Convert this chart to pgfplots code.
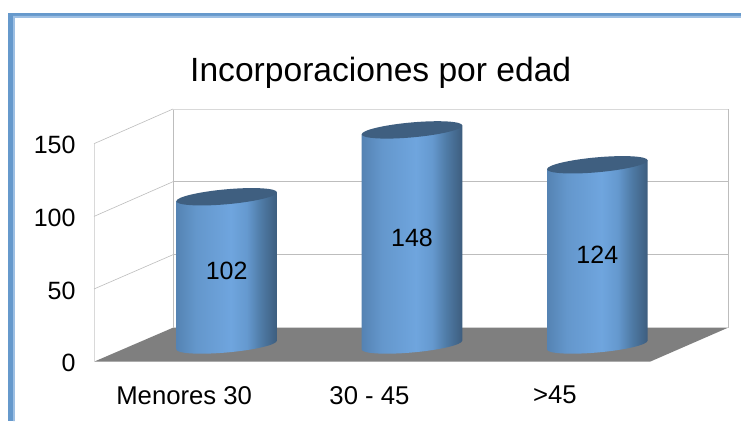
\documentclass[border=0pt]{standalone}
\usepackage{pgfplots}
\pgfplotsset{compat=1.18}
\usepackage{fontspec}
\setmainfont{Liberation Sans}
\definecolor{cyltopc}{HTML}{3F5F80}
\definecolor{cA}{HTML}{5583B3}
\definecolor{cB}{HTML}{6497CC}
\definecolor{cC}{HTML}{6FA5DE}
\definecolor{cD}{HTML}{6599CF}
\definecolor{cE}{HTML}{4F7BA6}
\definecolor{cF}{HTML}{3D5D7E}
\definecolor{floorc}{HTML}{7F7F7F}
\definecolor{gridc}{HTML}{BDBDBD}
\definecolor{wallc}{HTML}{D9D9D9}
\definecolor{bandA}{HTML}{6699CC}
\definecolor{bandB}{HTML}{9DBFE3}
\pgfdeclarehorizontalshading{cyl}{100bp}{color(0bp)=(cA); color(25bp)=(cA); color(35bp)=(cB); color(52bp)=(cC); color(60bp)=(cD); color(67bp)=(cE); color(75bp)=(cF); color(100bp)=(cF)}
\newlength\cylh
\pgfdeclareplotmark{cylinder}{%
  \pgfmathsetlength{\cylh}{1.4533pt*\rawy}%
  \begin{pgfscope}%
    \pgfpathmoveto{\pgfpoint{-50.3pt}{-4.4pt}}%
    \pgfpathlineto{\pgfpoint{-50.3pt}{-4.4pt-\cylh}}%
    \pgfpathcurveto{\pgfpoint{-50.3pt}{-8.54pt-\cylh}}{\pgfpoint{-27.78pt}{-9.93pt-\cylh}}{\pgfpoint{0pt}{-7.5pt-\cylh}}%
    \pgfpathcurveto{\pgfpoint{27.78pt}{-5.07pt-\cylh}}{\pgfpoint{50.3pt}{0.26pt-\cylh}}{\pgfpoint{50.3pt}{4.4pt-\cylh}}%
    \pgfpathlineto{\pgfpoint{50.3pt}{4.4pt}}%
    \pgfpathclose
    \pgfusepath{clip}%
    \pgftransformcm{2.0045}{0}{0}{6}{\pgfpointorigin}%
    \pgflowlevelsynccm
    \pgfuseshading{cyl}%
  \end{pgfscope}%
  \pgfpathellipse{\pgfpointorigin}{\pgfpoint{50.3pt}{4.4pt}}{\pgfpoint{0pt}{7.5pt}}%
  \pgfsetfillcolor{cyltopc}\pgfusepath{fill}%
}
\begin{document}
\begin{tikzpicture}[x=1pt,y=1pt]
\useasboundingbox (0,0) rectangle (741,421);
% page frame
\fill[bandA] (8,0) rectangle (741,408);
\fill[bandB] (13,0) -- (13,405) -- (741,405) -- (741,403) -- (15,403) -- (15,0) -- cycle;
\fill[white] (15,0) rectangle (741,403);
% walls (px y -> 421-y)
\fill[floorc] (94,59.3) -- (650,59.3) -- (728,93.3) -- (173,93.3) -- cycle;
\draw[wallc,line width=0.8pt] (94,59.3) -- (94,277.3);
\draw[gridc,line width=0.8pt] (173,93.3) -- (173,312) (728,93.3) -- (728,312);
\draw[wallc,line width=0.8pt] (173,312) -- (728,312);
\draw[gridc,line width=0.8pt] (173,239.3) -- (728,239.3) (173,166.3) -- (728,166.3);
\draw[gridc,line width=0.6pt] (94,277.3) -- (173,312) (94,204.6) -- (173,239.3) (94,132) -- (173,166.3);
\begin{axis}[at={(94pt,59.3pt)},anchor=south west,scale only axis,width=556pt,height=218pt,
  xmin=-0.5,xmax=2.5,ymin=0,ymax=150,clip=false,axis line style={draw=none},
  major tick length=0pt,
  ytick={0,50,100,150},
  xtick={0,1,2},xticklabels={Menores 30,30 - 45,>45},
  tick label style={font=\fontsize{25}{29}\selectfont,/pgf/number format/assume math mode=true},
  yticklabel style={xshift=-15pt,yshift=-1.5pt},
  xticklabel style={yshift=-21pt,xshift=-2.5pt,font=\fontsize{25.7}{29}\selectfont},
  title={Incorporaciones por edad},
  title style={font=\fontsize{33.6}{40}\selectfont,at={(0.5157,1.26)},anchor=base},
]
\end{axis}
\begin{axis}[at={(134pt,76pt)},anchor=south west,scale only axis,width=556pt,height=218pt,
  xmin=-0.5,xmax=2.5,ymin=0,ymax=150,clip=false,hide axis]
\addplot[scatter,only marks,mark=cylinder,
  visualization depends on={y \as \rawy},
  nodes near coords,
  every node near coord/.append style={anchor=center,font=\fontsize{25}{29}\selectfont,text=black,
    yshift=-0.7267*\rawy pt,/pgf/number format/assume math mode=true}]
  coordinates {(0,102) (1,148) (2,124)};
\end{axis}
\end{tikzpicture}
\end{document}
